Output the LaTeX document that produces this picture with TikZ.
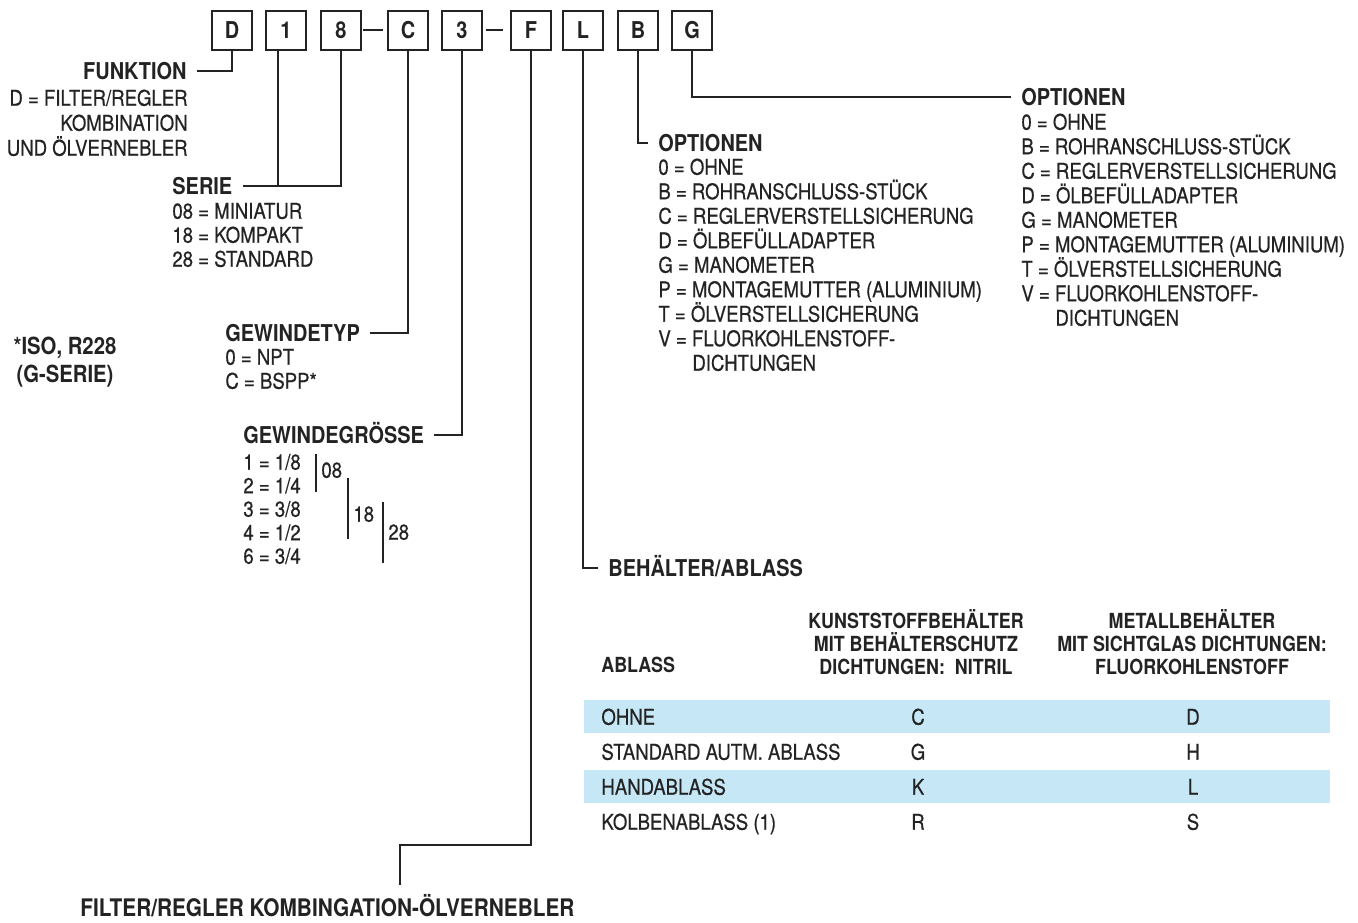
\documentclass[tikz,border=0pt]{standalone}
\usepackage{fontspec}
\setmainfont[FakeStretch=0.86, UprightFeatures={FakeBold=0.5}]{TeX Gyre Heros}
\usepackage{xcolor}
\definecolor{rowblue}{RGB}{198,231,246}
\definecolor{ink}{RGB}{35,35,35}

\begin{document}
\begin{tikzpicture}[x=0.5pt, y=-0.5pt,
    every node/.style={text=ink},
    codebox/.style={draw=ink, line width=1pt, fill=white, minimum width=20pt, minimum height=19.5pt, inner sep=0pt, font=\bfseries\fontsize{11.6}{13}\selectfont},
    head/.style={inner xsep=5pt, inner ysep=0pt, text height=8.3pt, text depth=0pt, font=\bfseries\fontsize{11.6}{13}\selectfont},
    item/.style={inner sep=0pt, text height=7.7pt, text depth=0pt, font=\fontsize{10.8}{12}\selectfont},
    thead/.style={inner sep=0pt, align=center, font=\bfseries\fontsize{10.4}{11.5}\selectfont},
    lead/.style={draw=ink, line width=1pt},
    tick/.style={draw=ink, line width=0.7pt}]

    \useasboundingbox (0,0) rectangle (1358,922);

    \node[codebox] (bD) at (232,30) {D};
    \node[codebox] (b1) at (286,30) {1};
    \node[codebox] (b8) at (341,30) {8};
    \node[codebox] (bC) at (408,30) {C};
    \node[codebox] (b3) at (462,30) {3};
    \node[codebox] (bF) at (531,30) {F};
    \node[codebox] (bL) at (583,30) {L};
    \node[codebox] (bB) at (638,30) {B};
    \node[codebox] (bG) at (692,30) {G};

    \draw[lead, shorten <=0.5pt, shorten >=2pt] (b8) -- (bC);
    \draw[lead, shorten <=1.5pt, shorten >=3.5pt] (b3) -- (bF);

    \node[head, anchor=east] (funktion) at (197,71) {FUNKTION};
    \node[item, anchor=east] (fk1) at (188,98) {D = FILTER/REGLER};
    \node[item, anchor=east] (fk2) at (188,123) {KOMBINATION};
    \node[item, anchor=east] (fk3) at (188,148) {UND ÖLVERNEBLER};

    \node[head, anchor=west] (serie) at (162,186) {SERIE};
    \foreach \t [count=\i] in {08 = MINIATUR, 18 = KOMPAKT, 28 = STANDARD}
        \node[item, anchor=west] (se\i) at (172,187+24*\i) {\t};

    \node[head, anchor=west] (gtyp) at (215,333) {GEWINDETYP};
    \foreach \t [count=\i] in {0 = NPT, C = BSPP*}
        \node[item, anchor=west] (gt\i) at (225,333+24*\i) {\t};

    \node[head, inner xsep=0pt, align=center, font=\bfseries\fontsize{11.8}{14}\selectfont] (iso) at (65,374) {*ISO, R228\\(G-SERIE)};

    \node[head, anchor=west] (ggroesse) at (233,435) {GEWINDEGRÖSSE};
    \foreach \t [count=\i] in {{1 = 1/8}, {2 = 1/4}, {3 = 3/8}, {4 = 1/2}, {6 = 3/4}}
        \node[item, anchor=west] (gg\i) at (243,438.5+23.5*\i) {\t};
    \draw[tick] (316,454) -- (316,492);
    \draw[tick] (348,478) -- (348,539);
    \draw[tick] (383,502) -- (383,563);
    \node[item, anchor=west] (s08) at (321,470) {08};
    \node[item, anchor=west] (s18) at (353,514) {18};
    \node[item, anchor=west] (s28) at (388,532) {28};

    \node[head, anchor=west] (optB) at (648,143) {OPTIONEN};
    \foreach \t [count=\i] in {0 = OHNE, B = ROHRANSCHLUSS-STÜCK, C = REGLERVERSTELLSICHERUNG, D = ÖLBEFÜLLADAPTER, G = MANOMETER, P = MONTAGEMUTTER (ALUMINIUM), T = ÖLVERSTELLSICHERUNG, V = FLUORKOHLENSTOFF-}
        \node[item, anchor=west] (ob\i) at (658,142.5+24.5*\i) {\t};
    \node[item, anchor=west] (ob9) at (692,363) {DICHTUNGEN};

    \node[head, anchor=west] (optG) at (1011,97) {OPTIONEN};
    \foreach \t [count=\i] in {0 = OHNE, B = ROHRANSCHLUSS-STÜCK, C = REGLERVERSTELLSICHERUNG, D = ÖLBEFÜLLADAPTER, G = MANOMETER, P = MONTAGEMUTTER (ALUMINIUM), T = ÖLVERSTELLSICHERUNG, V = FLUORKOHLENSTOFF-}
        \node[item, anchor=west] (og\i) at (1021,97.5+24.5*\i) {\t};
    \node[item, anchor=west] (og9) at (1055,318) {DICHTUNGEN};

    \node[head, anchor=west] (behaelter) at (598,568) {BEHÄLTER/ABLASS};

    \fill[rowblue] (584,700) rectangle (1330,733);
    \fill[rowblue] (584,770) rectangle (1330,803);
    \node[thead, anchor=west, text height=7.4pt, text depth=0pt] (ablass) at (601,665) {ABLASS};
    \node[thead] (kunst) at (916,642) {KUNSTSTOFFBEHÄLTER\\MIT BEHÄLTERSCHUTZ\\DICHTUNGEN:~~NITRIL};
    \node[thead] (metall) at (1192,642) {METALLBEHÄLTER\\MIT SICHTGLAS DICHTUNGEN:\\FLUORKOHLENSTOFF};
    \foreach \lbl/\kv/\mv [count=\r] in {OHNE/C/D, STANDARD AUTM. ABLASS/G/H, HANDABLASS/K/L, {KOLBENABLASS (1)}/R/S} {
        \node[item, anchor=west] (ab\r) at (601,682+35*\r) {\lbl};
        \node[item] (kv\r) at (918,682+35*\r) {\kv};
        \node[item] (mv\r) at (1193,682+35*\r) {\mv};
    }

    \node[head, anchor=west, font=\bfseries\fontsize{12.1}{13}\selectfont] (ftitle) at (70,908) {FILTER/REGLER KOMBINGATION-ÖLVERNEBLER};
    \coordinate (fknick) at (400,845);
    \coordinate (fend) at (400,885);

    \draw[lead] (bD.south) |- (funktion.east);
    \draw[lead] (b8.south) |- (serie.east);
    \draw[lead] ([xshift=-4pt]b1.south) -- ([xshift=-4pt]b1.south |- serie.east);
    \draw[lead] (bC.south) |- (gtyp.east);
    \draw[lead] (b3.south) |- (ggroesse.east);
    \draw[lead] (bF.south) |- (fknick) -- (fend);
    \draw[lead] (bL.south) |- (behaelter.west);
    \draw[lead] (bB.south) |- (optB.west);
    \draw[lead] (bG.south) |- (optG.west);

\end{tikzpicture}
\end{document}
